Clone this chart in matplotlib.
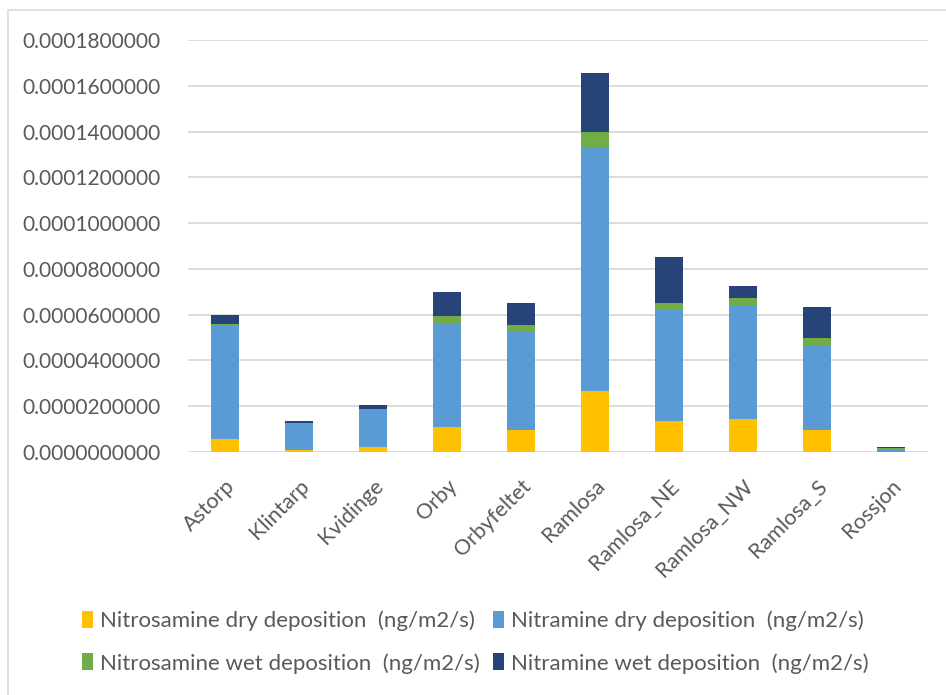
import matplotlib
matplotlib.use("Agg")
import matplotlib.pyplot as plt
from matplotlib.patches import Rectangle
from matplotlib.ticker import FuncFormatter, MultipleLocator
import numpy as np

plt.rcParams['font.family'] = ['Lato', 'DejaVu Sans']

categories = ["Astorp", "Klintarp", "Kvidinge", "Orby", "Orbyfeltet", "Ramlosa",
              "Ramlosa_NE", "Ramlosa_NW", "Ramlosa_S", "Rossjon"]
nitrosamine_dry = [0.55e-5, 0.10e-5, 0.22e-5, 1.10e-5, 0.94e-5, 2.65e-5, 1.37e-5, 1.43e-5, 0.94e-5, 0.02e-5]
nitramine_dry = [4.95e-5, 1.12e-5, 1.63e-5, 4.55e-5, 4.32e-5, 10.68e-5, 4.85e-5, 4.96e-5, 3.71e-5, 0.13e-5]
nitrosamine_wet = [0.11e-5, 0.05e-5, 0.02e-5, 0.28e-5, 0.27e-5, 0.67e-5, 0.27e-5, 0.33e-5, 0.35e-5, 0.02e-5]
nitramine_wet = [0.39e-5, 0.10e-5, 0.17e-5, 1.07e-5, 0.96e-5, 2.55e-5, 2.01e-5, 0.55e-5, 1.33e-5, 0.06e-5]

series = [
    ("Nitrosamine dry deposition  (ng/m2/s)", nitrosamine_dry, "#FFC000"),
    ("Nitramine dry deposition  (ng/m2/s)", nitramine_dry, "#5B9BD5"),
    ("Nitrosamine wet deposition  (ng/m2/s)", nitrosamine_wet, "#70AD47"),
    ("Nitramine wet deposition  (ng/m2/s)", nitramine_wet, "#264478"),
]

W, H = 946, 695
fig = plt.figure(figsize=(W / 100, H / 100), dpi=100)
fig.patch.set_facecolor("white")
# chart border
fig.patches.append(Rectangle((8 / W, -0.05), 1.2, (H - 10) / H + 0.05, transform=fig.transFigure,
                             fill=False, edgecolor="#D9D9D9", linewidth=1.2))

ax = fig.add_axes([188 / W, (H - 452) / H, (928 - 188) / W, (452 - 40) / H])
x = np.arange(len(categories))
bottom = np.zeros(len(categories))
handles = []
for label, vals, color in series:
    vals = np.array(vals)
    b = ax.bar(x, vals, width=0.39, bottom=bottom, color=color, label=label, zorder=3)
    handles.append(b)
    bottom += vals

ax.set_ylim(0, 0.00018)
ax.set_xlim(-0.5, len(categories) - 0.5)
ax.yaxis.set_major_locator(MultipleLocator(0.00002))
ax.yaxis.set_major_formatter(FuncFormatter(lambda v, p: f"{v:.10f}"))
ax.grid(axis="y", color="#D9D9D9", linewidth=1.3, zorder=0)
for s in ax.spines.values():
    s.set_visible(False)
ax.tick_params(axis="y", length=0, pad=20, labelsize=15, labelcolor="#595959")
ax.tick_params(axis="x", length=0, pad=17, labelsize=15.5, labelcolor="#595959")
ax.set_xticks(x)
ax.set_xticklabels(categories, rotation=45, ha="right", rotation_mode="anchor")

order = [0, 2, 1, 3]
fig.legend([handles[i] for i in order], [series[i][0] for i in order], ncol=2, loc="center",
           bbox_to_anchor=(475 / W, (H - 642) / H),
           frameon=False, fontsize=16, labelcolor="#595959", handlelength=0.5, handleheight=0.8,
           handletextpad=0.3, columnspacing=0.6, labelspacing=1.0)

fig.savefig("out.png", dpi=100)
